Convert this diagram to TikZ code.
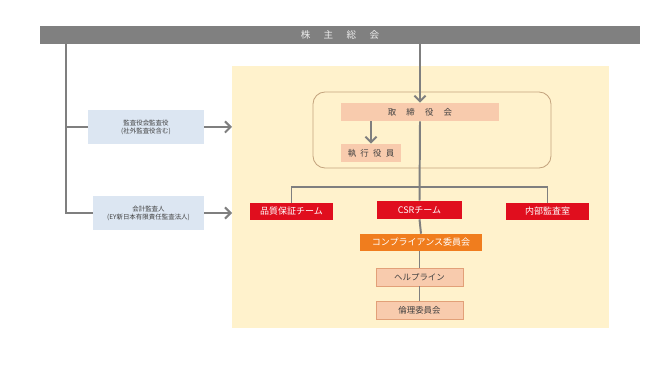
\documentclass[tikz,border=0pt]{standalone}
\usepackage{fontspec}
\setmainfont{Noto Sans CJK JP}
\usepackage{xcolor}
\usetikzlibrary{positioning,arrows.meta,calc}
\definecolor{linegray}{RGB}{127,127,127}
\definecolor{bargray}{RGB}{128,128,128}
\definecolor{creamback}{RGB}{255,242,204}
\definecolor{tanframe}{RGB}{196,164,126}
\definecolor{salmonfill}{RGB}{248,203,173}
\definecolor{salmondraw}{RGB}{226,160,120}
\definecolor{auditblue}{RGB}{220,230,242}
\definecolor{teamred}{RGB}{224,14,30}
\definecolor{comporange}{RGB}{240,125,30}
\definecolor{textgray}{RGB}{64,64,64}

\begin{document}
\begin{tikzpicture}[
    x=0.025cm, y=-0.025cm,
    >={Straight Barb[length=4pt,width=8pt]},
    every node/.style={inner sep=0pt, align=center},
    conn/.style={draw=linegray, line width=1.4pt},
    bar/.style={rectangle, fill=bargray, text=white!85!gray,
        minimum width=15cm, minimum height=0.45cm, font=\fontsize{6.8}{7}\selectfont},
    audit/.style={rectangle, fill=auditblue, text=textgray,
        minimum height=0.85cm, font=\fontsize{4.6}{5.8}\selectfont},
    board/.style={rectangle, fill=salmonfill, text=textgray,
        minimum height=0.45cm, font=\fontsize{6}{7}\selectfont},
    team/.style={rectangle, fill=teamred, text=white,
        minimum width=2.075cm, minimum height=0.425cm, font=\fontsize{6.4}{7}\selectfont},
    sub/.style={rectangle, fill=salmonfill, draw=salmondraw, line width=0.4pt, text=textgray,
        minimum width=2.175cm, minimum height=0.45cm, font=\fontsize{6}{7}\selectfont}
]
\useasboundingbox (0,0) rectangle (649,365);

% background area
\fill[creamback] (232,66) rectangle (609,328);
\coordinate (bgw) at (232,66);
\draw[tanframe, line width=0.6pt, rounded corners=0.3cm] (313,92) rectangle (551,168);

% nodes
\node[bar] (gm) at (340,35) {株\hspace{1.4em}主\hspace{1.4em}総\hspace{1.4em}会};
\node[audit, minimum width=2.9cm] (kansa) at (146,127) {監査役会監査役\\(社外監査役含む)};
\node[audit, minimum width=2.775cm] (kaikei) at (148.5,213) {会計監査人\\(EY新日本有限責任監査法人)};
\node[board, minimum width=3.95cm] (tori) at (420,112) {取\hspace{1.2em}締\hspace{1.2em}役\hspace{1.2em}会};
\node[board, minimum width=1.5cm] (shikko) at (371,153) {執\hspace{0.5em}行\hspace{0.5em}役\hspace{0.5em}員};
\node[team] (hinshitsu) at (291.5,211.5) {品質保証チーム};
\node[team, minimum width=2.125cm, minimum height=0.45cm] (csr) at (419.5,210) {CSRチーム};
\node[team] (naibu) at (547.5,211.5) {内部監査室};
\node[rectangle, fill=comporange, text=white, minimum width=3.05cm, minimum height=0.425cm,
    font=\fontsize{6.4}{7}\selectfont] (comp) at (421,242.5) {コンプライアンス委員会};
\node[sub] (help) at (419.5,277) {ヘルプライン};
\node[sub] (rinri) at (419.5,310) {倫理委員会};

% connectors
\coordinate (lt) at (66,44);
\draw[conn] (lt) |- (kaikei.west);
\draw[conn] (lt |- kansa.west) -- (kansa.west);
\draw[conn, ->] (kansa.east) -- (kansa.east -| bgw);
\draw[conn, ->] (kaikei.east) -- (kaikei.east -| bgw);
\draw[conn, ->] (gm.south -| tori.north) -- (tori.north);
\draw[conn, ->] (tori.south -| shikko.north) -- (shikko.north);
\draw[conn] (tori.south) -- (csr.north);
\coordinate (br) at (420,187);
\draw[conn] (hinshitsu.north) |- (br) -| (naibu.north);
\draw[conn] (csr.south) -- (comp.north);
\draw[conn] (comp.south -| help.north) -- (help.north);
\draw[conn] (help.south) -- (rinri.north);
\end{tikzpicture}
\end{document}
